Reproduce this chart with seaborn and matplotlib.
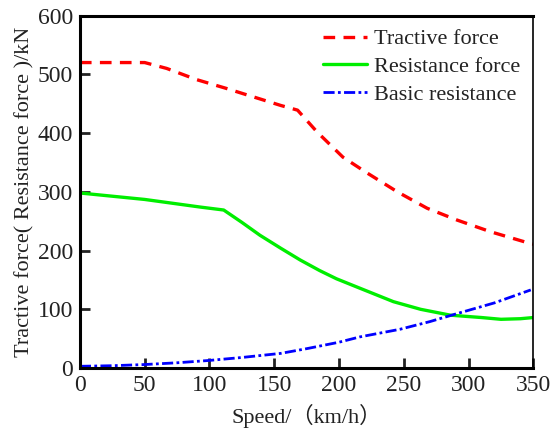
import matplotlib
matplotlib.use("Agg")
import matplotlib.pyplot as plt
import seaborn as sns
import pandas as pd

speed_tr = [0, 50, 67, 90, 113, 126, 142, 155, 168, 183, 203, 221, 245, 268, 291, 317, 343, 350]
tractive = [520, 520, 510, 491, 476, 467, 456, 447, 439, 402, 359, 333, 300, 272, 252, 232, 215, 211]

speed_rs = [0, 50, 93, 111, 125, 139, 155, 170, 185, 198, 216, 242, 263, 286, 310, 325, 340, 350]
resistance = [298, 287, 274, 269, 248, 226, 204, 184, 166, 152, 136, 113, 100, 90, 86, 83, 84, 86]

speed_bs = [0, 25, 50, 75, 100, 125, 155, 175, 200, 216, 247, 270, 290, 320, 348]
basic = [3, 4, 6, 9, 13, 18, 25, 33, 44, 53, 66, 79, 92, 111, 133]

labels = ["Tractive force", "Resistance force", "Basic resistance"]

sns.set_theme(style="ticks")
plt.rcParams["font.family"] = ["Liberation Serif", "Noto Sans CJK SC"]

fig, ax = plt.subplots(figsize=(5.51, 4.32), dpi=100)
fig.subplots_adjust(left=0.145, right=0.968, top=0.964, bottom=0.148)

sns.lineplot(x=speed_tr, y=tractive, ax=ax, color="#ff0000", lw=2.4,
             linestyle=(0, (3.5, 2.5)), label=labels[0])
sns.lineplot(x=speed_rs, y=resistance, ax=ax, color="#00ee00", lw=2.4,
             label=labels[1])
sns.lineplot(x=speed_bs, y=basic, ax=ax, color="#0000ff", lw=2.0,
             linestyle=(0, (4, 1.2, 1, 1.2)), label=labels[2])

ax.set_xlim(0, 350)
ax.set_ylim(0, 600)
ax.set_xticks(range(0, 351, 50))
ax.set_yticks(range(0, 601, 100))
ax.tick_params(direction="in", length=7, width=2, labelsize=17, colors="#222222",
               top=False, right=False, pad=5)
for s in ["left", "bottom", "top"]:
    ax.spines[s].set_linewidth(2.2)
    ax.spines[s].set_color("black")
ax.spines["right"].set_linewidth(1.2)
ax.spines["right"].set_color("black")

ax.set_xlabel("Speed/（km/h）", fontsize=16, color="#222222", labelpad=6)
ax.set_ylabel("Tractive force( Resistance force )/kN", fontsize=16, color="#222222", labelpad=2)

leg = ax.legend(loc="upper right", frameon=False, fontsize=16, handlelength=2.0,
                handletextpad=0.3, labelspacing=0.32, borderaxespad=0.2)
for t in leg.get_texts():
    t.set_color("#222222")

fig.savefig("out.png", dpi=100)
